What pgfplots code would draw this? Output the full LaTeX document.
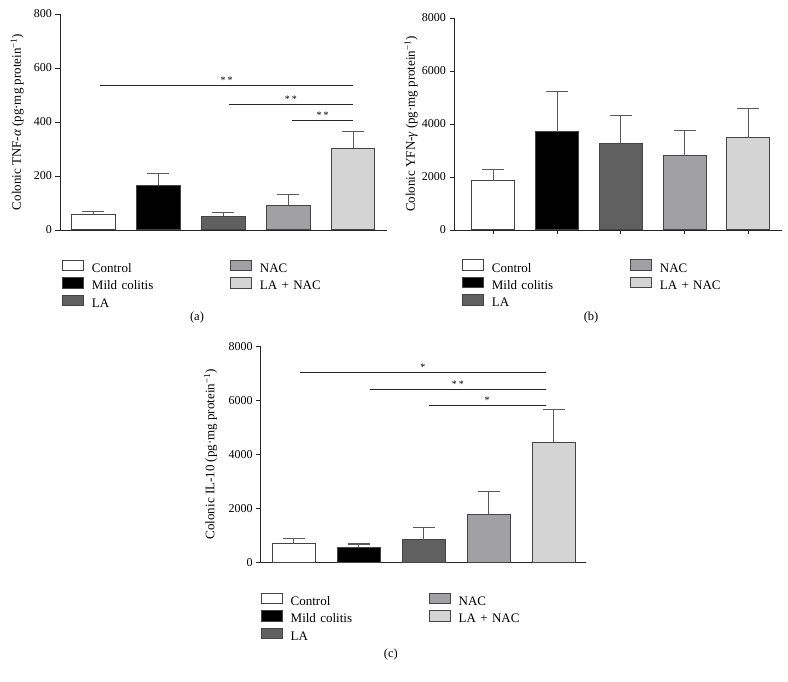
\documentclass[border=0pt]{standalone}
\usepackage{fontspec}
\setmainfont{Liberation Serif}
\usepackage{pgfplots}
\pgfplotsset{compat=1.18}
\definecolor{cLA}{HTML}{606060}
\definecolor{cNAC}{HTML}{A1A1A3}
\definecolor{cLANAC}{HTML}{D4D4D4}
\definecolor{edge}{HTML}{444444}
\definecolor{errc}{HTML}{5A5A5A}
\pgfplotsset{
  panel/.style={
    scale only axis, anchor=south west, clip=false,
    axis x line=bottom, axis y line=left,
    axis line style={-, line width=0.9pt, black!85},
    tick align=outside, major tick length=4.5pt,
    every tick/.style={line width=0.9pt, black!85},
    ymin=0,
    scaled y ticks=false,
    /pgf/number format/assume math mode=true,
    /pgf/number format/1000 sep={},
    ticklabel style={font=\fontsize{12}{14}\selectfont},
    ylabel style={font=\fontsize{13}{15}\selectfont, anchor=center},
    legend columns=3, transpose legend, legend cell align=left,
    legend style={draw=none, fill=none, inner sep=0pt, outer sep=0pt,
      font=\fontsize{13}{15}\selectfont, anchor=north west,
      nodes={inner xsep=0pt, inner ysep=1pt, text width=128pt},
      /tikz/every odd column/.append style={column sep=8pt},
      /tikz/every even column/.append style={column sep=10pt},
      row sep=2.2pt},
  },
  mybar/.style={ybar, bar width=43.5pt, bar shift=0pt, draw=edge, line width=1pt,
    legend image code/.code={\draw[##1] (0pt,-2pt) rectangle (21pt,8.5pt);},
    error bars/y dir=plus, error bars/y explicit,
    error bars/error bar style={errc, line width=1.1pt},
    error bars/error mark options={errc, line width=1.1pt, mark size=11pt, rotate=90}},
  sig/.style={black!85, line width=0.8pt, forget plot},
}
\newcommand{\st}{\fontsize{10}{12}\selectfont}
\begin{document}
\begin{tikzpicture}
\path[use as bounding box] (0,0) rectangle (788pt,681pt);
% (a)
\begin{axis}[panel, at={(60pt,451pt)}, width=327pt, height=216pt,
  xmin=-0.515, xmax=4.52, ymax=800, ytick={0,200,400,600,800}, xtick=\empty,
  ylabel={Colonic TNF-{\itshape α} (pg·mg protein\textsuperscript{−1})},
  ylabel style={at={(axis description cs:-0.131,0.5)}},
  legend style={at={(axis description cs:0.006,-0.137)}}]
\addplot[mybar, fill=white] coordinates {(0,56) +- (0,13)};
\addlegendentry{Control}
\addplot[mybar, fill=black] coordinates {(1,165) +- (0,44)};
\addlegendentry{Mild colitis}
\addplot[mybar, fill=cLA] coordinates {(2,51) +- (0,13)};
\addlegendentry{LA}
\addplot[mybar, fill=cNAC] coordinates {(3,91) +- (0,40)};
\addlegendentry{NAC}
\addplot[mybar, fill=cLANAC] coordinates {(4,302) +- (0,62)};
\addlegendentry{LA + NAC}
\addplot[sig] coordinates {(0.1,537) (4,537)};
\addplot[sig] coordinates {(2.08,465) (4,465)};
\addplot[sig] coordinates {(3.05,407) (4,407)};
\node[anchor=base, yshift=2pt, font=\st] at (axis cs:2.05,537) {*\hspace{2pt}*};
\node[anchor=base, yshift=2pt, font=\st] at (axis cs:3.04,465) {*\hspace{2pt}*};
\node[anchor=base, yshift=2pt, font=\st] at (axis cs:3.53,407) {*\hspace{2pt}*};
\node[font=\fontsize{12.5}{14}\selectfont] at (axis description cs:0.419,-0.407) {(a)};
\end{axis}
% (b)
\begin{axis}[panel, at={(454pt,451pt)}, width=328pt, height=212pt,
  xmin=-0.62, xmax=4.53, ymax=8000, ytick={0,2000,4000,6000,8000},
  xtick={0,1,2,3,4}, xticklabels={},
  ylabel={Colonic YFN-{\itshape γ} (pg·mg protein\textsuperscript{−1})},
  ylabel style={at={(axis description cs:-0.131,0.5)}},
  legend style={at={(axis description cs:0.024,-0.139)}}]
\addplot[mybar, bar width=43pt, fill=white] coordinates {(0,1851) +- (0,429)};
\addlegendentry{Control}
\addplot[mybar, bar width=43pt, fill=black] coordinates {(1,3703) +- (0,1524)};
\addlegendentry{Mild colitis}
\addplot[mybar, bar width=43pt, fill=cLA] coordinates {(2,3249) +- (0,1083)};
\addlegendentry{LA}
\addplot[mybar, bar width=43pt, fill=cNAC] coordinates {(3,2796) +- (0,957)};
\addlegendentry{NAC}
\addplot[mybar, bar width=43pt, fill=cLANAC] coordinates {(4,3489) +- (0,1108)};
\addlegendentry{LA + NAC}
\node[font=\fontsize{12.5}{14}\selectfont] at (axis description cs:0.418,-0.415) {(b)};
\end{axis}
% (c)
\begin{axis}[panel, at={(260.7pt,118.7pt)}, width=325.3pt, height=216pt,
  xmin=-0.505, xmax=4.5, ymax=8000, ytick={0,2000,4000,6000,8000}, xtick=\empty,
  ylabel={Colonic IL-10 (pg·mg protein\textsuperscript{−1})},
  ylabel style={at={(axis description cs:-0.154,0.5)}},
  legend style={at={(axis description cs:0.0,-0.141)}}]
\addplot[mybar, bar width=43pt, fill=white] coordinates {(0,690) +- (0,185)};
\addlegendentry{Control}
\addplot[mybar, bar width=43pt, fill=black] coordinates {(1,542) +- (0,136)};
\addlegendentry{Mild colitis}
\addplot[mybar, bar width=43pt, fill=cLA] coordinates {(2,838) +- (0,444)};
\addlegendentry{LA}
\addplot[mybar, bar width=43pt, fill=cNAC] coordinates {(3,1775) +- (0,851)};
\addlegendentry{NAC}
\addplot[mybar, bar width=43pt, fill=cLANAC] coordinates {(4,4451) +- (0,1196)};
\addlegendentry{LA + NAC}
\addplot[sig] coordinates {(0.1,7028) (3.88,7028)};
\addplot[sig] coordinates {(1.18,6387) (3.88,6387)};
\addplot[sig] coordinates {(2.08,5808) (3.88,5808)};
\node[anchor=base, yshift=2pt, font=\st] at (axis cs:1.99,7028) {*};
\node[anchor=base, yshift=2pt, font=\st] at (axis cs:2.53,6387) {*\hspace{2pt}*};
\node[anchor=base, yshift=2pt, font=\st] at (axis cs:2.98,5808) {*};
\node[font=\fontsize{12.5}{14}\selectfont] at (axis description cs:0.40,-0.425) {(c)};
\end{axis}
\end{tikzpicture}
\end{document}
